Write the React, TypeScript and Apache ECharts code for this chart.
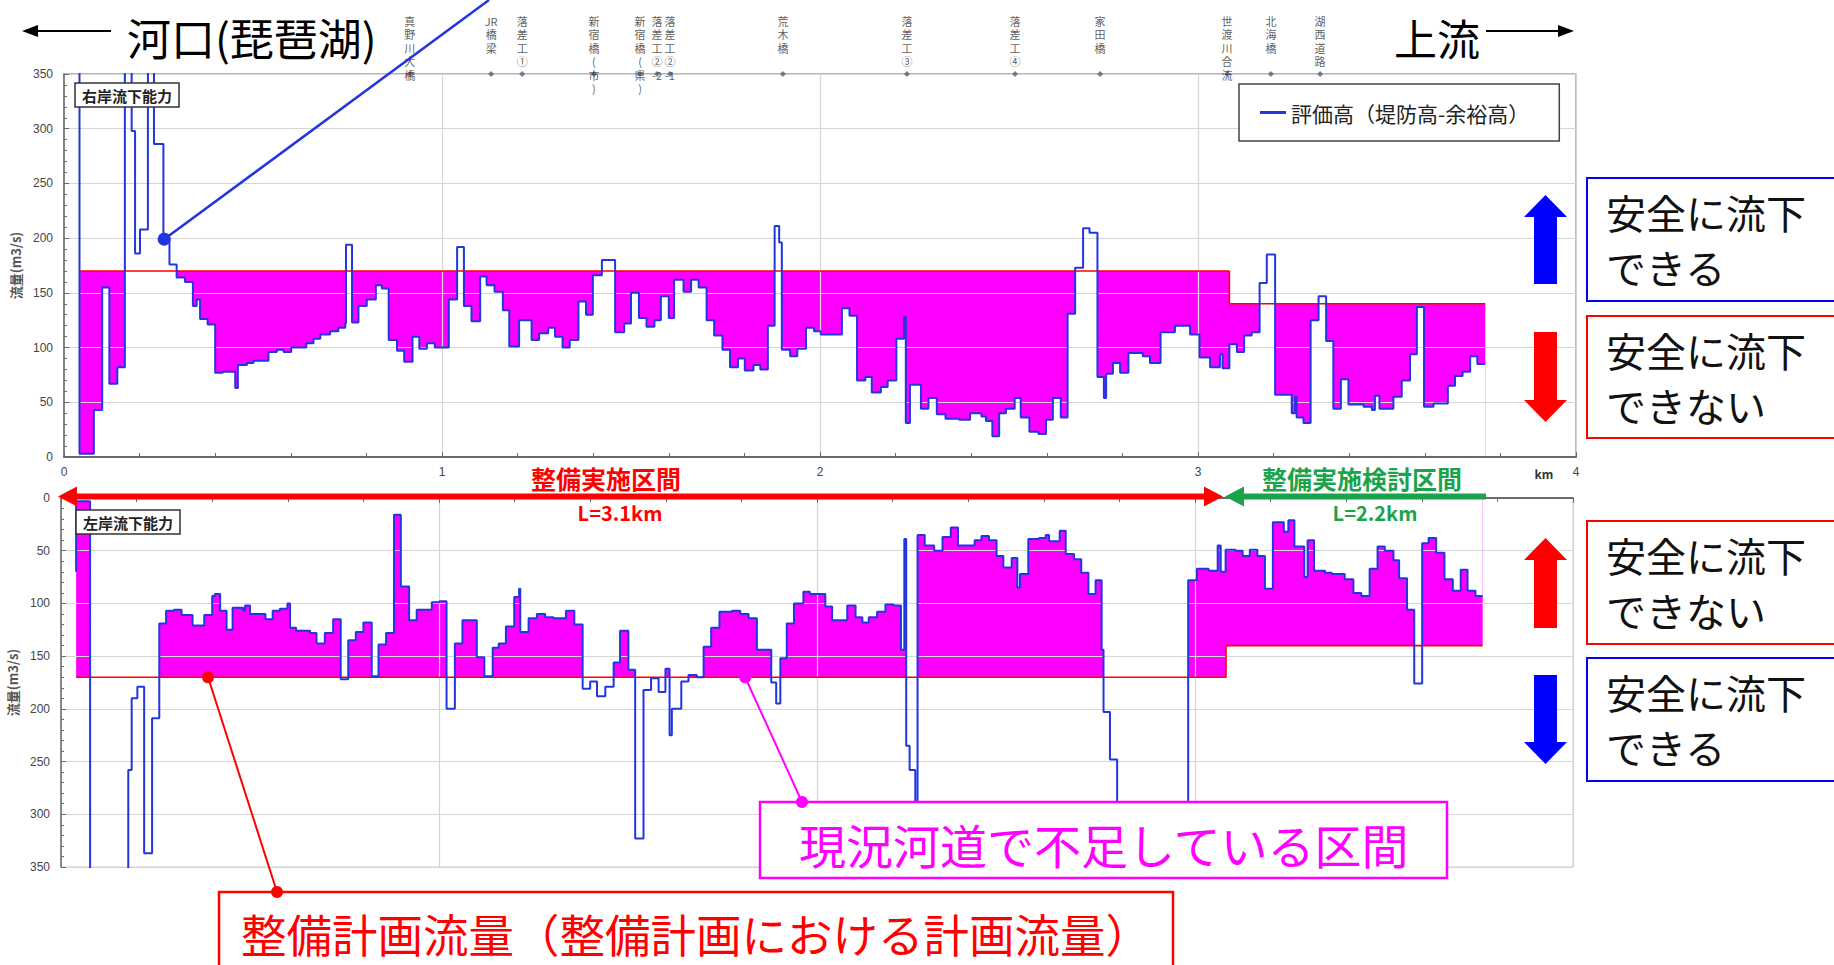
import React, { useEffect, useRef } from 'react';
import * as echarts from 'echarts';

// ---------- data ----------
const KM_MIN = 0;
const KM_MAX = 4;
const KM_STEP = 1;
const Q_MIN = 0;
const Q_MAX = 350;
const Q_STEP = 50;

// Right bank (top chart): evaluated capacity, step-wise (value holds until next km). 400 = off scale (>350)
const RIGHT_CAP_KM = [
  0.041, 0.041, 0.079, 0.101, 0.12, 0.141, 0.161, 0.179, 0.188, 0.201, 0.222, 0.238, 0.263, 0.279, 0.298, 0.32,
  0.341, 0.351, 0.36, 0.38, 0.4, 0.42, 0.453, 0.46, 0.484, 0.501, 0.541, 0.563, 0.581, 0.601, 0.641, 0.66,
  0.678, 0.704, 0.726, 0.744, 0.746, 0.762, 0.779, 0.801, 0.825, 0.841, 0.859, 0.881, 0.9, 0.922, 0.94, 0.96,
  0.981, 1.018, 1.04, 1.058, 1.078, 1.101, 1.118, 1.139, 1.161, 1.178, 1.204, 1.237, 1.257, 1.281, 1.299, 1.319,
  1.338, 1.361, 1.381, 1.399, 1.423, 1.458, 1.482, 1.5, 1.521, 1.541, 1.562, 1.579, 1.6, 1.614, 1.639, 1.659,
  1.679, 1.7, 1.72, 1.742, 1.762, 1.783, 1.801, 1.824, 1.842, 1.862, 1.88, 1.892, 1.899, 1.921, 1.94, 1.963,
  1.984, 2.002, 2.058, 2.078, 2.098, 2.12, 2.137, 2.161, 2.179, 2.202, 2.222, 2.227, 2.238, 2.267, 2.287, 2.309,
  2.332, 2.368, 2.397, 2.427, 2.439, 2.456, 2.474, 2.492, 2.515, 2.531, 2.554, 2.578, 2.598, 2.616, 2.637, 2.655,
  2.675, 2.696, 2.713, 2.734, 2.751, 2.757, 2.775, 2.794, 2.816, 2.854, 2.873, 2.901, 2.939, 2.979, 3.004, 3.032,
  3.058, 3.065, 3.083, 3.103, 3.122, 3.142, 3.163, 3.182, 3.204, 3.248, 3.257, 3.261, 3.279, 3.298, 3.319, 3.339,
  3.358, 3.378, 3.398, 3.438, 3.46, 3.468, 3.48, 3.517, 3.539, 3.561, 3.579, 3.598, 3.623, 3.661, 3.68, 3.7,
  3.72, 3.739, 3.76,
];
const RIGHT_CAP_Q = [
  400, 3, 43, 155, 67, 82, 400, 298, 186, 208, 400, 286, 200, 176, 164, 160,
  138, 144, 126, 121, 77, 78, 63, 84, 86, 88, 96, 98, 96, 100, 104, 108,
  112, 115, 118, 122, 194, 123, 138, 144, 157, 154, 107, 97, 87, 110, 99, 104,
  100, 144, 192, 138, 124, 165, 157, 151, 134, 101, 125, 107, 113, 118, 110, 100,
  107, 142, 130, 166, 180, 114, 122, 150, 127, 119, 125, 147, 127, 162, 151, 162,
  155, 125, 111, 98, 82, 90, 79, 84, 80, 120, 211, 196, 98, 92, 99, 118,
  115, 112, 136, 129, 70, 73, 59, 64, 70, 108, 128, 31, 66, 44, 54, 39,
  35, 34, 40, 37, 33, 19, 40, 44, 54, 36, 23, 21, 34, 54, 36, 131,
  173, 209, 205, 73, 54, 76, 86, 77, 95, 92, 86, 114, 120, 112, 91, 82,
  94, 81, 103, 96, 111, 114, 159, 185, 57, 40, 55, 36, 31, 125, 147, 106,
  44, 71, 48, 46, 43, 56, 44, 55, 70, 94, 137, 46, 49, 65, 74, 78,
  92, 85, 85,
];
const RIGHT_PLAN_KM = [0.041, 3.083, 3.76];
const RIGHT_PLAN_Q = [170, 140, 140];

// Left bank (bottom chart, inverted axis)
const LEFT_CAP_KM = [
  0.04, 0.04, 0.077, 0.178, 0.187, 0.202, 0.22, 0.241, 0.26, 0.278, 0.299, 0.319, 0.348, 0.379, 0.4, 0.407,
  0.421, 0.438, 0.454, 0.482, 0.487, 0.5, 0.541, 0.56, 0.579, 0.599, 0.606, 0.622, 0.659, 0.676, 0.698, 0.72,
  0.74, 0.76, 0.78, 0.8, 0.822, 0.84, 0.86, 0.881, 0.899, 0.921, 0.941, 0.981, 1.001, 1.02, 1.042, 1.062,
  1.1, 1.12, 1.142, 1.158, 1.177, 1.199, 1.212, 1.215, 1.237, 1.259, 1.281, 1.303, 1.336, 1.358, 1.38, 1.4,
  1.418, 1.44, 1.462, 1.479, 1.501, 1.519, 1.541, 1.561, 1.581, 1.599, 1.61, 1.616, 1.641, 1.66, 1.682, 1.7,
  1.72, 1.742, 1.775, 1.797, 1.819, 1.841, 1.879, 1.892, 1.903, 1.92, 1.939, 1.964, 1.981, 2.022, 2.04, 2.08,
  2.102, 2.12, 2.137, 2.159, 2.181, 2.203, 2.222, 2.231, 2.236, 2.245, 2.26, 2.266, 2.285, 2.31, 2.332, 2.354,
  2.373, 2.417, 2.435, 2.455, 2.475, 2.493, 2.515, 2.53, 2.537, 2.559, 2.587, 2.605, 2.614, 2.642, 2.658, 2.68,
  2.699, 2.718, 2.737, 2.753, 2.758, 2.775, 2.794, 2.982, 3.005, 3.036, 3.06, 3.068, 3.081, 3.107, 3.126, 3.145,
  3.165, 3.185, 3.206, 3.235, 3.247, 3.263, 3.289, 3.298, 3.315, 3.344, 3.362, 3.396, 3.419, 3.44, 3.462, 3.483,
  3.502, 3.525, 3.54, 3.561, 3.58, 3.601, 3.618, 3.638, 3.66, 3.682, 3.703, 3.721, 3.742, 3.761,
];
const LEFT_CAP_Q = [
  70, 3, 400, 258, 190, 179, 337, 209, 119, 107, 106, 111, 121, 111, 93, 91,
  107, 125, 104, 107, 102, 110, 115, 107, 105, 100, 123, 126, 128, 138, 128, 115,
  172, 135, 127, 118, 169, 139, 128, 16, 84, 116, 106, 99, 98, 200, 138, 116,
  151, 169, 142, 138, 122, 94, 86, 127, 114, 110, 113, 114, 107, 120, 181, 174,
  188, 179, 156, 126, 163, 323, 182, 171, 184, 162, 225, 200, 174, 168, 170, 141,
  123, 108, 107, 110, 114, 144, 175, 195, 152, 119, 100, 89, 91, 103, 116, 102,
  113, 118, 113, 108, 101, 102, 144, 39, 235, 258, 400, 35, 45, 50, 37, 28,
  45, 40, 36, 40, 55, 66, 57, 85, 72, 39, 38, 35, 41, 31, 53, 58,
  71, 91, 78, 144, 203, 248, 400, 78, 67, 69, 45, 70, 49, 50, 55, 49,
  55, 86, 23, 32, 21, 46, 75, 40, 69, 71, 72, 77, 90, 93, 67, 46,
  50, 59, 76, 106, 176, 43, 38, 52, 77, 88, 68, 88, 93, 93,
];
const LEFT_PLAN_KM = [0.04, 3.082, 3.761];
const LEFT_PLAN_Q = [170, 140, 140];

// Landmarks along the river (km)
const STATION_NAMES = [
  '真野川大橋', 'JR橋梁', '落差工①', '新宿橋(市)', '新宿橋(県)', '落差工②-2', '落差工②-1',
  '荒木橋', '落差工③', '落差工④', '家田橋', '世渡川合流', '北海橋', '湖西道路',
];
const STATION_KM = [0.915, 1.13, 1.212, 1.402, 1.524, 1.569, 1.603, 1.902, 2.23, 2.516, 2.741, 3.077, 3.193, 3.323];

// Annotation anchors (grid, km, flow)
const CALLOUT_GRID = [0, 1, 1];
const CALLOUT_KM = [0.265, 0.389, 1.81];
const CALLOUT_Q = [199, 170, 170];

// Section bounds (km)
const SECTION_KM = [0, 3.074, 3.77];

// ---------- style ----------
const JP = "'Noto Sans CJK JP', 'Noto Sans', sans-serif";
const NUM = "'Liberation Sans', Arial, sans-serif";
const MAGENTA = '#ff00ff';
const RED = '#ff0000';
const GREEN = '#1ba34c';
const LINE_BLUE = '#2236e0';
const BOX_BLUE = '#0000ff';
const LEGEND_NAME = '評価高（堤防高-余裕高）';

function stepAt(xs: number[], ys: number[], x: number) {
  let v = ys[0];
  for (let i = 0; i < xs.length; i++) {
    if (xs[i] <= x + 1e-9) v = ys[i];
    else break;
  }
  return v;
}

// lower edge of the deficit band: min(capacity, plan) on the merged breakpoints
function deficitFloor(capX: number[], capQ: number[], planX: number[], planQ: number[]) {
  const start = planX[0];
  const end = planX[planX.length - 1];
  const xs = Array.from(new Set([...capX, ...planX]))
    .filter((x) => x >= start - 1e-9 && x <= end + 1e-9)
    .sort((a, b) => a - b);
  return xs.map((x) => [x, Math.min(stepAt(capX, capQ, x), stepAt(planX, planQ, x))]);
}

function bankSeries(g: number, capX: number[], capQ: number[], planX: number[], planQ: number[], name: string) {
  const floor = deficitFloor(capX, capQ, planX, planQ);
  const planData = planX.map((x, i) => [x, planQ[i]]);
  const common = { type: 'line', xAxisIndex: g, yAxisIndex: g, step: 'end', symbol: 'none', silent: true };
  return [
    {
      ...common, name: 'planArea' + g, data: planData,
      lineStyle: { width: 0, opacity: 0 }, areaStyle: { color: MAGENTA, opacity: 1, origin: 'start' }, z: 1,
    },
    {
      ...common, name: 'floor' + g, data: floor,
      lineStyle: { width: 0, opacity: 0 }, areaStyle: { color: '#ffffff', opacity: 1, origin: 'start' }, z: 1.2,
    },
    {
      ...common, name: 'plan' + g, data: planData,
      lineStyle: { color: RED, width: 1.6 }, itemStyle: { color: RED }, z: 3,
    },
    {
      ...common, name, data: capX.map((x, i) => [x, capQ[i]]),
      lineStyle: { color: LINE_BLUE, width: 2 }, itemStyle: { color: LINE_BLUE }, color: LINE_BLUE, z: 4,
    },
  ];
}

const verticalize = (s: string) => (s.match(/[A-Za-z0-9\-]+|./gu) || []).join('\n');

function axisX(g: number, position: string, showLabels: boolean) {
  return {
    type: 'value', gridIndex: g, position, min: KM_MIN, max: KM_MAX, interval: KM_STEP, z: 2,
    axisLine: { show: true, onZero: false, lineStyle: { color: '#6b6b6b', width: 2 } },
    axisTick: { show: true, inside: true, length: 5, lineStyle: { color: '#6b6b6b' } },
    minorTick: { show: true, splitNumber: 5, length: 4, lineStyle: { color: '#6b6b6b' } },
    axisLabel: { show: showLabels, margin: 9, fontSize: 12, color: '#444', fontFamily: NUM },
    splitLine: { show: true, lineStyle: { color: '#d6d6d6', width: 1.2 } },
  };
}

function axisY(g: number, inverse: boolean) {
  return {
    type: 'value', gridIndex: g, inverse, min: Q_MIN, max: Q_MAX, interval: Q_STEP, z: 2,
    name: '流量(m3/s)', nameLocation: 'middle', nameGap: 37, nameRotate: 90,
    nameTextStyle: { fontSize: 13, fontWeight: 'bold', color: '#555', fontFamily: JP },
    axisLine: { show: true, onZero: false, lineStyle: { color: '#6b6b6b', width: 1.5 } },
    axisTick: { show: true, inside: true, length: 5, lineStyle: { color: '#6b6b6b' } },
    minorTick: { show: true, splitNumber: 5, length: 3, lineStyle: { color: '#6b6b6b' } },
    axisLabel: { margin: 11, fontSize: 12, color: '#444', fontFamily: NUM },
    splitLine: { show: true, lineStyle: { color: '#d6d6d6', width: 1.2 } },
  };
}

const Z = 50;
function txt(text: string, x: number, y: number, size: number, color: string, o: any = {}) {
  return {
    type: 'text', z: Z, x, y,
    style: {
      text, fontSize: size, fontFamily: JP, fill: color, fontWeight: o.bold ? 'bold' : 'normal',
      align: o.align || 'left', verticalAlign: o.va || 'middle', lineHeight: o.lh,
    },
  };
}
function blockArrow(cx: number, yTip: number, yHead: number, yEnd: number, color: string) {
  return {
    type: 'polygon', z: Z,
    shape: {
      points: [
        [cx, yTip], [cx + 21.5, yHead], [cx + 11.5, yHead], [cx + 11.5, yEnd],
        [cx - 11.5, yEnd], [cx - 11.5, yHead], [cx - 21.5, yHead],
      ],
    },
    style: { fill: color },
  };
}
function rect(x: number, y: number, w: number, h: number, color: string, lw = 2) {
  return { type: 'rect', z: Z - 1, shape: { x, y, width: w, height: h }, style: { fill: '#fff', stroke: color, lineWidth: lw } };
}
function seg(x1: number, y1: number, x2: number, y2: number, color: string, lw: number) {
  return { type: 'line', z: Z, shape: { x1, y1, x2, y2 }, style: { stroke: color, lineWidth: lw } };
}
function dot(x: number, y: number, color: string, r = 6) {
  return { type: 'circle', z: Z + 1, shape: { cx: x, cy: y, r }, style: { fill: color } };
}
function tri(pts: number[][], color: string) {
  return { type: 'polygon', z: Z, shape: { points: pts }, style: { fill: color } };
}

export default function App() {
  const ref = useRef<HTMLDivElement>(null);
  useEffect(() => {
    const el = ref.current!;
    const chart = echarts.init(el, null, { renderer: 'svg', width: 1834, height: 965 });
    const option: any = {
      animation: false,
      backgroundColor: '#fff',
      textStyle: { fontFamily: JP },
      title: [
        {
          text: '右岸流下能力', left: 75, top: 83, padding: [4, 7, 3, 7], borderColor: '#333', borderWidth: 1.5,
          backgroundColor: '#fff', z: 6, textStyle: { fontSize: 15, fontWeight: 'bold', color: '#222', fontFamily: JP, lineHeight: 17 },
        },
        {
          text: '左岸流下能力', left: 76, top: 510, padding: [4, 7, 3, 7], borderColor: '#333', borderWidth: 1.5,
          backgroundColor: '#fff', z: 6, textStyle: { fontSize: 15, fontWeight: 'bold', color: '#222', fontFamily: JP, lineHeight: 17 },
        },
      ],
      legend: {
        data: [{ name: LEGEND_NAME, icon: 'rect' }],
        left: 1239, top: 84, padding: [18, 30, 18, 21], itemWidth: 26, itemHeight: 3,
        borderColor: '#444', borderWidth: 1.5, backgroundColor: '#fff', z: 6, selectedMode: false,
        textStyle: { fontSize: 21, color: '#222', fontFamily: JP },
      },
      grid: [
        { left: 64, top: 74, width: 1512, height: 383, show: true, borderColor: '#a3a3a3', borderWidth: 1.5, outerBoundsMode: 'none', containLabel: false },
        { left: 61, top: 498, width: 1512, height: 369, show: true, borderColor: '#cfcfcf', borderWidth: 1, outerBoundsMode: 'none', containLabel: false },
      ],
      xAxis: [axisX(0, 'bottom', true), axisX(1, 'top', false)],
      yAxis: [axisY(0, false), axisY(1, true)],
      series: [
        ...bankSeries(0, RIGHT_CAP_KM, RIGHT_CAP_Q, RIGHT_PLAN_KM, RIGHT_PLAN_Q, LEGEND_NAME),
        ...bankSeries(1, LEFT_CAP_KM, LEFT_CAP_Q, LEFT_PLAN_KM, LEFT_PLAN_Q, '左岸評価高'),
        {
          type: 'scatter', name: 'stations', xAxisIndex: 0, yAxisIndex: 0, clip: false, silent: true, z: 5,
          data: STATION_KM.map((k, i) => ({ value: [k, Q_MAX], name: STATION_NAMES[i] })),
          symbol: 'diamond', symbolSize: 6, itemStyle: { color: '#5a5f80' },
          label: {
            show: true, position: ['50%', -57], align: 'center', verticalAlign: 'top',
            formatter: (p: any) => verticalize(p.name), fontSize: 11, lineHeight: 13.5, color: '#333', fontFamily: JP,
          },
        },
      ],
    };
    chart.setOption(option);

    const px = (g: number, k: number, q: number) => chart.convertToPixel({ gridIndex: g } as any, [k, q]) as number[];
    const gfx: any[] = [];

    // direction arrows at the top
    gfx.push(seg(36, 31, 111, 31, '#000', 2), tri([[22, 31], [38, 25], [38, 37]], '#000'));
    gfx.push(txt('河口(琵琶湖)', 127, 37, 44, '#000'));
    gfx.push(txt('上流', 1394, 37, 43, '#000'));
    gfx.push(seg(1486, 31, 1560, 31, '#000', 2), tri([[1574, 31], [1558, 25], [1558, 37]], '#000'));
    gfx.push(txt('km', 1544, 473, 12, '#333', { align: 'center', bold: true }));

    // right side explanation boxes
    const FS = 40;
    const LH = 55;
    gfx.push(rect(1587, 178, 300, 123, BOX_BLUE), txt('安全に流下\nできる', 1606, 184.5, FS, '#111', { va: 'top', lh: LH }));
    gfx.push(rect(1587, 316, 300, 122, RED), txt('安全に流下\nできない', 1606, 322.5, FS, '#111', { va: 'top', lh: LH }));
    gfx.push(rect(1587, 521, 300, 123, RED), txt('安全に流下\nできない', 1606, 527.5, FS, '#111', { va: 'top', lh: LH }));
    gfx.push(rect(1587, 658, 300, 123, BOX_BLUE), txt('安全に流下\nできる', 1606, 664.5, FS, '#111', { va: 'top', lh: LH }));
    gfx.push(blockArrow(1545.5, 195, 217, 284, BOX_BLUE));
    gfx.push(blockArrow(1545.5, 422, 400, 332, RED));
    gfx.push(blockArrow(1545.5, 538, 560, 628, RED));
    gfx.push(blockArrow(1545.5, 764, 742, 675, BOX_BLUE));

    // section arrows on the bottom chart's top axis
    const s0 = px(1, SECTION_KM[0], Q_MIN);
    const s1 = px(1, SECTION_KM[1], Q_MIN);
    const s2 = px(1, SECTION_KM[2], Q_MIN);
    const ay = s0[1] - 1.5;
    const x0 = s0[0] - 3;
    const x1 = s1[0];
    const x2 = s2[0];
    gfx.push(seg(x0 + 15, ay, x1 - 15, ay, RED, 6));
    gfx.push(tri([[x0, ay], [x0 + 19, ay - 10], [x0 + 19, ay + 10]], RED));
    gfx.push(tri([[x1, ay], [x1 - 19, ay - 10], [x1 - 19, ay + 10]], RED));
    gfx.push(seg(x1 + 17, ay, x2, ay, GREEN, 6));
    gfx.push(tri([[x1 + 2, ay], [x1 + 21, ay - 10], [x1 + 21, ay + 10]], GREEN));
    gfx.push(txt('整備実施区間', 606, 478, 25, RED, { align: 'center', bold: true }));
    gfx.push(txt('L=3.1km', 620, 512, 20, RED, { align: 'center', bold: true }));
    gfx.push(txt('整備実施検討区間', 1362, 478, 25, GREEN, { align: 'center', bold: true }));
    gfx.push(txt('L=2.2km', 1375, 512, 20, GREEN, { align: 'center', bold: true }));

    // callouts
    const cb = px(CALLOUT_GRID[0], CALLOUT_KM[0], CALLOUT_Q[0]);
    gfx.push(seg(cb[0], cb[1], 489, 0, LINE_BLUE, 2.5), dot(cb[0], cb[1], LINE_BLUE, 6.5));

    const cr = px(CALLOUT_GRID[1], CALLOUT_KM[1], CALLOUT_Q[1]);
    gfx.push(seg(cr[0], cr[1], 277, 892, RED, 2), dot(cr[0], cr[1], RED), dot(277, 892, RED));
    gfx.push(rect(219, 892, 954, 80, RED, 2.5));
    gfx.push(txt('整備計画流量（整備計画における計画流量）', 241, 933, 45.5, RED));

    const cm = px(CALLOUT_GRID[2], CALLOUT_KM[2], CALLOUT_Q[2]);
    gfx.push(seg(cm[0], cm[1], 802, 802, MAGENTA, 2), dot(cm[0], cm[1], MAGENTA), dot(802, 802, MAGENTA));
    gfx.push(rect(760, 802, 687, 76, MAGENTA, 2.5));
    gfx.push(txt('現況河道で不足している区間', 799, 843, 47, MAGENTA));

    chart.setOption({ graphic: gfx });
    return () => chart.dispose();
  }, []);
  return (
    <div
      ref={ref}
      style={{ position: 'fixed', left: 0, top: 0, width: 1834, height: 965, background: '#fff' }}
    />
  );
}
